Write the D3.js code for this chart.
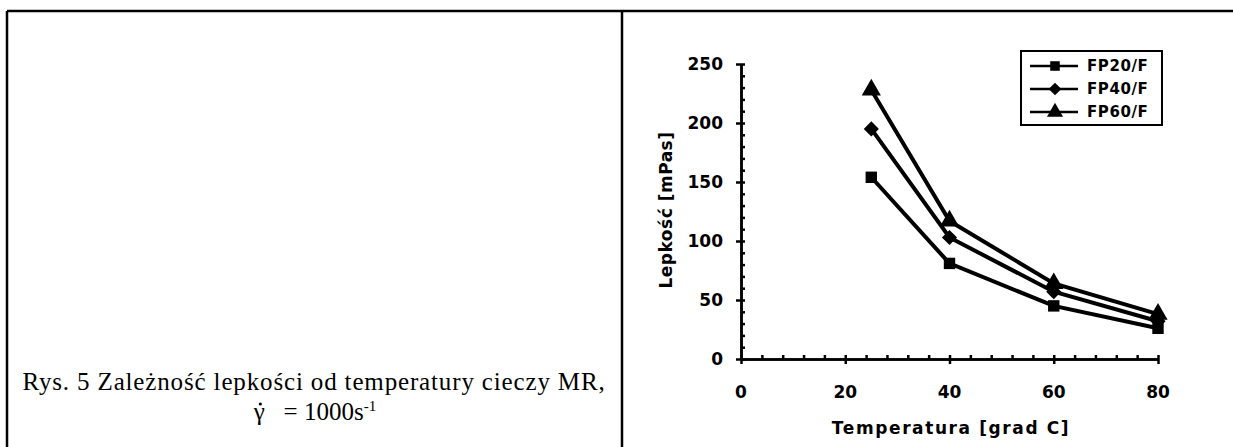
<!DOCTYPE html>
<html>
  <head>
    <meta http-equiv="Content-Type" content="text/html;charset=utf-8"/>
    <style type="text/css">
body { margin: 0; background: #fff; }
svg { display: block; }
.bold { font-family: "DejaVu Sans", "Liberation Sans", sans-serif; font-weight: bold; fill: #000; }
.caption { font-family: "Liberation Serif", "Times New Roman", serif; font-size: 25px; fill: #000; }
.axis path, .axis line { stroke: #000; stroke-width: 2.5px; fill: none; }
.axis text { display: none; }
.series { fill: none; stroke: #000; stroke-width: 4px; }
    </style>
  </head>
  <body>
    <svg></svg>
    <script type="text/javascript" src="https://cdn.jsdelivr.net/npm/d3@7"></script>
    <script type="text/javascript">

// data
var temps = [25, 40, 60, 80];
var fp20 = [154, 81, 45, 26];
var fp40 = [195, 103, 57, 32];
var fp60 = [228, 117, 64, 38];
var seriesNames = ["FP20/F", "FP40/F", "FP60/F"];
var xTicks = [0, 20, 40, 60, 80];
var yTicks = [0, 50, 100, 150, 200, 250];

var W = 1233, H = 447;

var svg = d3.select("svg").attr("width", W).attr("height", H);

// table frame
var frame = svg.append("g").attr("stroke", "#000").attr("stroke-width", 2.5);
frame.append("line").attr("x1", 7).attr("x2", W).attr("y1", 11).attr("y2", 11);
frame.append("line").attr("x1", 7).attr("x2", 7).attr("y1", 11).attr("y2", H);
frame.append("line").attr("x1", 622).attr("x2", 622).attr("y1", 11).attr("y2", H);

// caption
svg.append("text").attr("class", "caption")
    .attr("x", 314).attr("y", 390).attr("text-anchor", "middle")
    .attr("letter-spacing", 0.85)
    .text("Rys. 5 Zależność lepkości od temperatury cieczy MR,");
var cap2 = svg.append("text").attr("class", "caption")
    .attr("x", 315).attr("y", 420).attr("text-anchor", "middle");
cap2.append("tspan").text("γ\u00a0\u00a0\u00a0= 1000s");
cap2.append("tspan").attr("dy", -9).attr("font-size", 15).text("-1");
// the dot over gamma
var gBox = cap2.select("tspan").node().getExtentOfChar(0);
svg.append("circle")
    .attr("cx", gBox.x + gBox.width / 2 + 1).attr("cy", 404).attr("r", 1.6).attr("fill", "#000");

// chart
var x = d3.scaleLinear().domain([0, 80]).range([741, 1158]);
var y = d3.scaleLinear().domain([0, 250]).range([359, 64]);

var minorX = d3.range(0, 81, 4);
var minorY = d3.range(0, 251, 10);

// outward parts of the major ticks
svg.append("g").attr("class", "axis")
    .attr("transform", "translate(" + x(0) + ",0)")
    .call(d3.axisLeft(y).tickValues(yTicks).tickSizeInner(5).tickSizeOuter(0));
svg.append("g").attr("class", "axis")
    .attr("transform", "translate(0," + y(0) + ")")
    .call(d3.axisBottom(x).tickValues(xTicks).tickSizeInner(5).tickSizeOuter(0));
// inside minor ticks
svg.append("g").attr("class", "axis")
    .attr("transform", "translate(" + x(0) + ",0)")
    .call(d3.axisRight(y).tickValues(minorY).tickSizeInner(4).tickSizeOuter(0));
svg.append("g").attr("class", "axis")
    .attr("transform", "translate(0," + y(0) + ")")
    .call(d3.axisTop(x).tickValues(minorX).tickSizeInner(4).tickSizeOuter(0));

// tick labels
svg.selectAll("text.ylab").data(yTicks).enter().append("text")
    .attr("class", "bold ylab").attr("font-size", 17)
    .attr("x", 723).attr("y", function(d) { return y(d); })
    .attr("dy", "0.36em").attr("text-anchor", "end")
    .text(String);
svg.selectAll("text.xlab").data(xTicks).enter().append("text")
    .attr("class", "bold xlab").attr("font-size", 17)
    .attr("x", function(d) { return x(d); }).attr("y", 398)
    .attr("text-anchor", "middle")
    .text(String);

// axis titles
svg.append("text").attr("class", "bold").attr("font-size", 17)
    .attr("letter-spacing", 1.6)
    .attr("x", 951).attr("y", 434).attr("text-anchor", "middle")
    .text("Temperatura [grad C]");
svg.append("text").attr("class", "bold").attr("font-size", 17)
    .attr("letter-spacing", 0.5)
    .attr("transform", "translate(672,210) rotate(-90)")
    .attr("text-anchor", "middle")
    .text("Lepkość [mPas]");

// markers
var shapes = [d3.symbolSquare, d3.symbolSquare, d3.symbolTriangle];
var rot = [0, 45, 0];
var sizes = [130, 115, 160];
var series = [fp20, fp40, fp60];

var line = d3.line()
    .x(function(d, i) { return x(temps[i]); })
    .y(function(d) { return y(d); });

series.forEach(function(vals, s) {
  svg.append("path").attr("class", "series").attr("d", line(vals));
  svg.selectAll("path.m" + s).data(vals).enter().append("path")
      .attr("class", "m" + s)
      .attr("d", d3.symbol().type(shapes[s]).size(sizes[s]))
      .attr("transform", function(d, i) {
        return "translate(" + x(temps[i]) + "," + y(d) + ") rotate(" + rot[s] + ")"; })
      .attr("fill", "#000");
});

// legend
var lg = svg.append("g").attr("transform", "translate(1021,51)");
lg.append("rect").attr("width", 141).attr("height", 74)
    .attr("fill", "#fff").attr("stroke", "#000").attr("stroke-width", 2);
seriesNames.forEach(function(name, s) {
  var row = lg.append("g").attr("transform", "translate(0," + (15 + s * 23) + ")");
  row.append("line").attr("x1", 9).attr("x2", 57).attr("stroke", "#000").attr("stroke-width", 2.5);
  row.append("path").attr("d", d3.symbol().type(shapes[s]).size(sizes[s] * 0.7))
      .attr("transform", "translate(34,0) rotate(" + rot[s] + ")").attr("fill", "#000");
  row.append("text").attr("class", "bold").attr("font-size", 15)
      .attr("letter-spacing", 0.6)
      .attr("x", 66).attr("dy", "0.36em").text(name);
});

    </script>
  </body>
</html>
